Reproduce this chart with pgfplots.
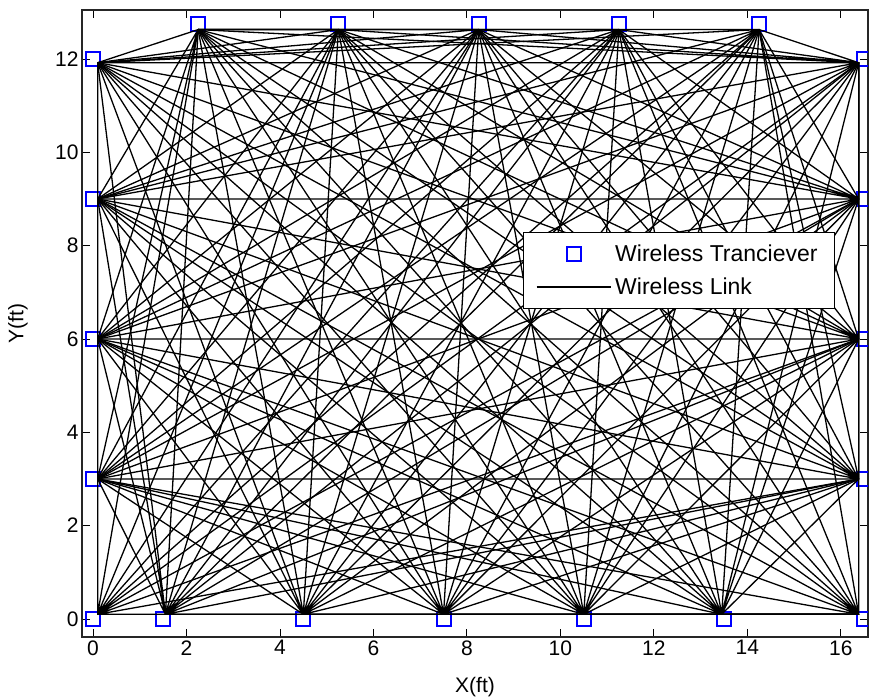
\documentclass[border=0pt]{standalone}
\usepackage{fontspec}
\setmainfont{Liberation Sans}
\usepackage{pgfplots}
\pgfplotsset{compat=1.18}
\begin{document}
\begin{tikzpicture}
\begin{axis}[
  scale only axis,
  width=786pt, height=627pt,
  xmin=-0.235, xmax=16.58,
  ymin=-0.386, ymax=13.05,
  xtick={0,2,...,16}, ytick={0,2,...,12},
  tick align=inside,
  major tick length=8pt,
  tick style={line width=0.9pt, black},
  axis line style={line width=1.3pt, black!85},
  /pgf/number format/assume math mode=true,
  tick label style={font=\fontsize{21}{25}\selectfont},
  label style={font=\fontsize{21}{25}\selectfont},
  xlabel={X(ft)}, ylabel={Y(ft)},
  xlabel style={at={(axis description cs:0.5,-0.0797)}, anchor=center},
  ylabel style={at={(axis description cs:-0.0814,0.5)}, anchor=center},
  clip marker paths=true,
  legend style={at={(axis description cs:0.958,0.646)}, anchor=north east,
    draw=black, line width=0.8pt, fill=white,
    inner xsep=13pt, inner ysep=5pt,
    nodes={inner xsep=4pt, inner ysep=7.5pt},
    font=\fontsize{23}{27}\selectfont, cells={anchor=west}},
  legend image code/.code={\draw[mark repeat=2,mark phase=2,#1] plot coordinates {(0pt,0pt) (37pt,0pt) (74pt,0pt)};},
  link/.style={black, line width=1.3pt, line join=round, line cap=round, no marks, forget plot},
]
\addlegendimage{only marks, mark=square, mark size=7pt, mark options={draw=blue, line width=2pt}}
\addlegendentry{Wireless Tranciever}
\addlegendimage{black, line width=1.3pt, no marks}
\addlegendentry{Wireless Link}

% transceiver positions
\addplot[only marks, mark=square, mark size=7pt, mark options={draw=blue, line width=2pt}, forget plot] coordinates {
(0,0) (1.5,0) (4.5,0) (7.5,0) (10.5,0) (13.5,0) (16.5,0)
(16.5,3) (16.5,6) (16.5,9) (16.5,12)
(14.25,12.75) (11.25,12.75) (8.25,12.75) (5.25,12.75) (2.25,12.75)
(0,12) (0,9) (0,6) (0,3)};

% wireless links (all pairs)
\addplot[link] coordinates {(0.1,0.1)(1.55,0.1)(0.1,0.1)(4.5,0.1)(0.1,0.1)(7.5,0.1)(0.1,0.1)(10.5,0.1)(0.1,0.1)(13.45,0.1)(0.1,0.1)(16.38,0.1)(0.1,0.1)(16.38,3)(0.1,0.1)(16.38,6)(0.1,0.1)(16.38,9)(0.1,0.1)(16.38,11.92)(0.1,0.1)(14.25,12.63)(0.1,0.1)(11.25,12.63)(0.1,0.1)(8.25,12.63)(0.1,0.1)(5.25,12.63)(0.1,0.1)(2.25,12.63)(0.1,0.1)(0.1,11.92)(0.1,0.1)(0.1,9)(0.1,0.1)(0.1,6)(0.1,0.1)(0.1,3)};
\addplot[link] coordinates {(1.55,0.1)(4.5,0.1)(1.55,0.1)(7.5,0.1)(1.55,0.1)(10.5,0.1)(1.55,0.1)(13.45,0.1)(1.55,0.1)(16.38,0.1)(1.55,0.1)(16.38,3)(1.55,0.1)(16.38,6)(1.55,0.1)(16.38,9)(1.55,0.1)(16.38,11.92)(1.55,0.1)(14.25,12.63)(1.55,0.1)(11.25,12.63)(1.55,0.1)(8.25,12.63)(1.55,0.1)(5.25,12.63)(1.55,0.1)(2.25,12.63)(1.55,0.1)(0.1,11.92)(1.55,0.1)(0.1,9)(1.55,0.1)(0.1,6)(1.55,0.1)(0.1,3)};
\addplot[link] coordinates {(4.5,0.1)(7.5,0.1)(4.5,0.1)(10.5,0.1)(4.5,0.1)(13.45,0.1)(4.5,0.1)(16.38,0.1)(4.5,0.1)(16.38,3)(4.5,0.1)(16.38,6)(4.5,0.1)(16.38,9)(4.5,0.1)(16.38,11.92)(4.5,0.1)(14.25,12.63)(4.5,0.1)(11.25,12.63)(4.5,0.1)(8.25,12.63)(4.5,0.1)(5.25,12.63)(4.5,0.1)(2.25,12.63)(4.5,0.1)(0.1,11.92)(4.5,0.1)(0.1,9)(4.5,0.1)(0.1,6)(4.5,0.1)(0.1,3)};
\addplot[link] coordinates {(7.5,0.1)(10.5,0.1)(7.5,0.1)(13.45,0.1)(7.5,0.1)(16.38,0.1)(7.5,0.1)(16.38,3)(7.5,0.1)(16.38,6)(7.5,0.1)(16.38,9)(7.5,0.1)(16.38,11.92)(7.5,0.1)(14.25,12.63)(7.5,0.1)(11.25,12.63)(7.5,0.1)(8.25,12.63)(7.5,0.1)(5.25,12.63)(7.5,0.1)(2.25,12.63)(7.5,0.1)(0.1,11.92)(7.5,0.1)(0.1,9)(7.5,0.1)(0.1,6)(7.5,0.1)(0.1,3)};
\addplot[link] coordinates {(10.5,0.1)(13.45,0.1)(10.5,0.1)(16.38,0.1)(10.5,0.1)(16.38,3)(10.5,0.1)(16.38,6)(10.5,0.1)(16.38,9)(10.5,0.1)(16.38,11.92)(10.5,0.1)(14.25,12.63)(10.5,0.1)(11.25,12.63)(10.5,0.1)(8.25,12.63)(10.5,0.1)(5.25,12.63)(10.5,0.1)(2.25,12.63)(10.5,0.1)(0.1,11.92)(10.5,0.1)(0.1,9)(10.5,0.1)(0.1,6)(10.5,0.1)(0.1,3)};
\addplot[link] coordinates {(13.45,0.1)(16.38,0.1)(13.45,0.1)(16.38,3)(13.45,0.1)(16.38,6)(13.45,0.1)(16.38,9)(13.45,0.1)(16.38,11.92)(13.45,0.1)(14.25,12.63)(13.45,0.1)(11.25,12.63)(13.45,0.1)(8.25,12.63)(13.45,0.1)(5.25,12.63)(13.45,0.1)(2.25,12.63)(13.45,0.1)(0.1,11.92)(13.45,0.1)(0.1,9)(13.45,0.1)(0.1,6)(13.45,0.1)(0.1,3)};
\addplot[link] coordinates {(16.38,0.1)(16.38,3)(16.38,0.1)(16.38,6)(16.38,0.1)(16.38,9)(16.38,0.1)(16.38,11.92)(16.38,0.1)(14.25,12.63)(16.38,0.1)(11.25,12.63)(16.38,0.1)(8.25,12.63)(16.38,0.1)(5.25,12.63)(16.38,0.1)(2.25,12.63)(16.38,0.1)(0.1,11.92)(16.38,0.1)(0.1,9)(16.38,0.1)(0.1,6)(16.38,0.1)(0.1,3)};
\addplot[link] coordinates {(16.38,3)(16.38,6)(16.38,3)(16.38,9)(16.38,3)(16.38,11.92)(16.38,3)(14.25,12.63)(16.38,3)(11.25,12.63)(16.38,3)(8.25,12.63)(16.38,3)(5.25,12.63)(16.38,3)(2.25,12.63)(16.38,3)(0.1,11.92)(16.38,3)(0.1,9)(16.38,3)(0.1,6)(16.38,3)(0.1,3)};
\addplot[link] coordinates {(16.38,6)(16.38,9)(16.38,6)(16.38,11.92)(16.38,6)(14.25,12.63)(16.38,6)(11.25,12.63)(16.38,6)(8.25,12.63)(16.38,6)(5.25,12.63)(16.38,6)(2.25,12.63)(16.38,6)(0.1,11.92)(16.38,6)(0.1,9)(16.38,6)(0.1,6)(16.38,6)(0.1,3)};
\addplot[link] coordinates {(16.38,9)(16.38,11.92)(16.38,9)(14.25,12.63)(16.38,9)(11.25,12.63)(16.38,9)(8.25,12.63)(16.38,9)(5.25,12.63)(16.38,9)(2.25,12.63)(16.38,9)(0.1,11.92)(16.38,9)(0.1,9)(16.38,9)(0.1,6)(16.38,9)(0.1,3)};
\addplot[link] coordinates {(16.38,11.92)(14.25,12.63)(16.38,11.92)(11.25,12.63)(16.38,11.92)(8.25,12.63)(16.38,11.92)(5.25,12.63)(16.38,11.92)(2.25,12.63)(16.38,11.92)(0.1,11.92)(16.38,11.92)(0.1,9)(16.38,11.92)(0.1,6)(16.38,11.92)(0.1,3)};
\addplot[link] coordinates {(14.25,12.63)(11.25,12.63)(14.25,12.63)(8.25,12.63)(14.25,12.63)(5.25,12.63)(14.25,12.63)(2.25,12.63)(14.25,12.63)(0.1,11.92)(14.25,12.63)(0.1,9)(14.25,12.63)(0.1,6)(14.25,12.63)(0.1,3)};
\addplot[link] coordinates {(11.25,12.63)(8.25,12.63)(11.25,12.63)(5.25,12.63)(11.25,12.63)(2.25,12.63)(11.25,12.63)(0.1,11.92)(11.25,12.63)(0.1,9)(11.25,12.63)(0.1,6)(11.25,12.63)(0.1,3)};
\addplot[link] coordinates {(8.25,12.63)(5.25,12.63)(8.25,12.63)(2.25,12.63)(8.25,12.63)(0.1,11.92)(8.25,12.63)(0.1,9)(8.25,12.63)(0.1,6)(8.25,12.63)(0.1,3)};
\addplot[link] coordinates {(5.25,12.63)(2.25,12.63)(5.25,12.63)(0.1,11.92)(5.25,12.63)(0.1,9)(5.25,12.63)(0.1,6)(5.25,12.63)(0.1,3)};
\addplot[link] coordinates {(2.25,12.63)(0.1,11.92)(2.25,12.63)(0.1,9)(2.25,12.63)(0.1,6)(2.25,12.63)(0.1,3)};
\addplot[link] coordinates {(0.1,11.92)(0.1,9)(0.1,11.92)(0.1,6)(0.1,11.92)(0.1,3)};
\addplot[link] coordinates {(0.1,9)(0.1,6)(0.1,9)(0.1,3)};
\addplot[link] coordinates {(0.1,6)(0.1,3)};
\end{axis}
\pgfresetboundingbox
\path[use as bounding box] (current axis.south west) ++(-82pt,-63pt) rectangle ++(870pt,700pt);
\end{tikzpicture}
\end{document}
